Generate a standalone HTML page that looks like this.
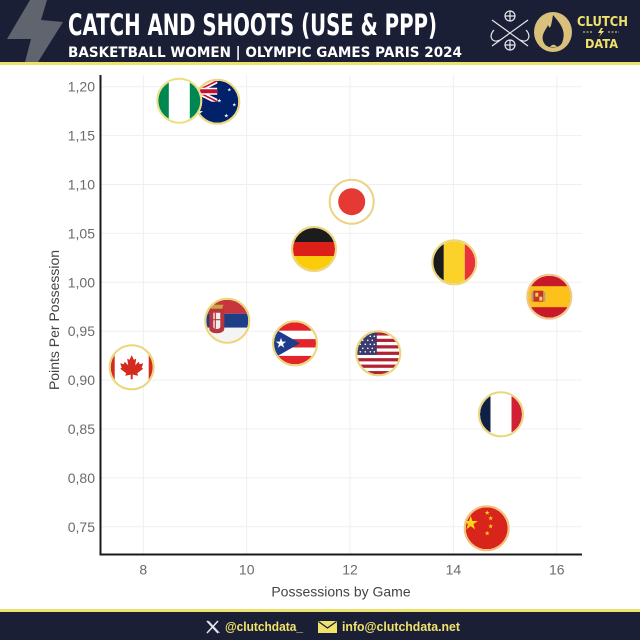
<!DOCTYPE html>
<html><head><meta charset="utf-8"><style>
html,body{margin:0;padding:0;background:#fff;}
svg{display:block;}
</style></head><body>
<svg width="640" height="640" viewBox="0 0 640 640" xmlns="http://www.w3.org/2000/svg" font-family="Liberation Sans, Arial, sans-serif">
<defs>
<path id="st" d="M0,-1 L0.2245,-0.309 L0.951,-0.309 L0.363,0.118 L0.588,0.809 L0,0.382 L-0.588,0.809 L-0.363,0.118 L-0.951,-0.309 L-0.2245,-0.309 Z"/>
<clipPath id="cc"><circle cx="0" cy="0" r="21"/></clipPath>
<clipPath id="canton"><rect x="-42" y="-21" width="42" height="21"/></clipPath>
</defs>
<rect width="640" height="640" fill="#fff"/>
<!-- header -->
<rect x="0" y="0" width="640" height="62" fill="#1b1f36"/>
<rect x="0" y="62" width="640" height="3" fill="#ede16c"/>
<polygon points="30,0 47,0 41,20 63,22 38,62 25,62 31,39 7,39" fill="#60646f"/>
<text x="68" y="35" font-family="DejaVu Sans, sans-serif" font-weight="bold" font-size="29" fill="#fff" textLength="369" lengthAdjust="spacingAndGlyphs">CATCH AND SHOOTS (USE &amp; PPP)</text>
<text x="68" y="57" font-family="DejaVu Sans, sans-serif" font-weight="bold" font-size="14" fill="#fff" textLength="394" lengthAdjust="spacingAndGlyphs">BASKETBALL WOMEN | OLYMPIC GAMES PARIS 2024</text>
<!-- basketball logo -->
<g stroke="#e8e8ee" stroke-width="1.2" fill="none">
<path d="M492,20 L528,46 M528,20 L492,46"/>
<path d="M494,30 C488,36 492,44 500,40 M526,30 C532,36 528,44 520,40"/>
<circle cx="510" cy="16" r="5"/><circle cx="510" cy="45" r="5"/>
<path d="M505,16 H515 M510,11 V21 M505,45 H515 M510,40 V50"/>
</g>
<ellipse cx="553" cy="32" rx="19" ry="20" fill="#d9c17c"/>
<path d="M553,15 C560,23 567,31 562,43 C559,49 547,49 544,43 C540,35 546,30 548,25 C550,30 551,28 553,15 Z" fill="#1b1f36"/>
<path d="M550,47 C552,44 555,44 557,47 Z" fill="#d9c17c"/>
<text x="577" y="26" font-family="DejaVu Sans, sans-serif" font-weight="bold" font-size="13" fill="#f0e26a" textLength="51" lengthAdjust="spacingAndGlyphs">CLUTCH</text>
<path d="M583,32 H593 M608,32 H619" stroke="#f0e26a" stroke-width="1" stroke-dasharray="2,1.5"/>
<path d="M601,28 L598,33 H601 L599,37 L604,31 H601 L603,28 Z" fill="#f0e26a"/>
<text x="585" y="48" font-family="DejaVu Sans, sans-serif" font-weight="bold" font-size="12" fill="#f0e26a" textLength="33" lengthAdjust="spacingAndGlyphs">DATA</text>

<!-- gridlines -->
<g stroke="#efefef" stroke-width="1">
<path d="M101,86.7 H582 M101,135.6 H582 M101,184.5 H582 M101,233.4 H582 M101,282.3 H582 M101,331.2 H582 M101,380.1 H582 M101,429 H582 M101,477.9 H582 M101,526.8 H582"/>
<path d="M143.3,75 V554 M246.7,75 V554 M350,75 V554 M453.4,75 V554 M556.8,75 V554"/>
</g>
<!-- axes -->
<path d="M100.5,75 V555.5 M100,554.5 H582" stroke="#1a1a1a" stroke-width="2" fill="none"/>
<!-- y ticks -->
<g font-size="14" fill="#6b6b6b" text-anchor="end">
<text x="95" y="91.7">1,20</text>
<text x="95" y="140.6">1,15</text>
<text x="95" y="189.5">1,10</text>
<text x="95" y="238.4">1,05</text>
<text x="95" y="287.3">1,00</text>
<text x="95" y="336.2">0,95</text>
<text x="95" y="385.1">0,90</text>
<text x="95" y="434">0,85</text>
<text x="95" y="482.9">0,80</text>
<text x="95" y="531.8">0,75</text>
</g>
<g font-size="14" fill="#6b6b6b" text-anchor="middle">
<text x="143.3" y="574.5">8</text>
<text x="246.7" y="574.5">10</text>
<text x="350" y="574.5">12</text>
<text x="453.4" y="574.5">14</text>
<text x="556.8" y="574.5">16</text>
</g>
<text x="341" y="596.5" font-size="14" fill="#444" text-anchor="middle">Possessions by Game</text>
<text transform="translate(59,320) rotate(-90)" font-size="14" fill="#444" text-anchor="middle">Points Per Possession</text>

<!-- Australia -->
<g transform="translate(217.3,101.7)">
<g clip-path="url(#cc)">
<rect x="-42" y="-21" width="84" height="42" fill="#012169"/>
<g clip-path="url(#canton)">
<path d="M-42,-21 L0,0 M0,-21 L-42,0" stroke="#fff" stroke-width="5"/>
<path d="M-42,-21 L0,0 M0,-21 L-42,0" stroke="#c8102e" stroke-width="1.6"/>
<path d="M-21,-21 V0 M-42,-10.5 H0" stroke="#fff" stroke-width="7"/>
<path d="M-21,-21 V0 M-42,-10.5 H0" stroke="#c8102e" stroke-width="4"/>
</g>
<use href="#st" transform="translate(-19,11) scale(5)" fill="#fff"/>
<use href="#st" transform="translate(2,-1) scale(2.2)" fill="#fff"/>
<use href="#st" transform="translate(12,-12) scale(2)" fill="#fff"/>
<use href="#st" transform="translate(17,3) scale(2)" fill="#fff"/>
<use href="#st" transform="translate(9,14) scale(2.2)" fill="#fff"/>
</g>
<circle r="22" fill="none" stroke="#ecd87c" stroke-width="2"/>
</g>
<!-- Nigeria -->
<g transform="translate(179.3,100.7)">
<g clip-path="url(#cc)">
<rect x="-32" y="-21" width="64" height="42" fill="#fff"/>
<rect x="-32" y="-21" width="21.5" height="42" fill="#008751"/>
<rect x="10.5" y="-21" width="21.5" height="42" fill="#008751"/>
</g>
<circle r="22" fill="none" stroke="#ece087" stroke-width="2"/>
</g>
<!-- Japan -->
<g transform="translate(351.7,201.7)">
<circle r="21.5" fill="#fff"/>
<circle r="13.5" fill="#e43a33"/>
<circle r="22" fill="none" stroke="#ecd386" stroke-width="2"/>
</g>
<!-- Germany -->
<g transform="translate(314,249)">
<g clip-path="url(#cc)">
<rect x="-22" y="-21" width="44" height="14" fill="#1c1c1c"/>
<rect x="-22" y="-7" width="44" height="14" fill="#dd1f1a"/>
<rect x="-22" y="7" width="44" height="14" fill="#fbcc0a"/>
</g>
<circle r="22" fill="none" stroke="#ecd67c" stroke-width="2"/>
</g>
<!-- Belgium -->
<g transform="translate(454.3,262.3)">
<g clip-path="url(#cc)">
<rect x="-32" y="-21" width="21.5" height="42" fill="#1b1b1b"/>
<rect x="-10.5" y="-21" width="21" height="42" fill="#fbd22a"/>
<rect x="10.5" y="-21" width="21.5" height="42" fill="#e8333e"/>
</g>
<circle r="22" fill="none" stroke="#ecd67c" stroke-width="2"/>
</g>
<!-- Spain -->
<g transform="translate(549.3,296.7)">
<g clip-path="url(#cc)">
<rect x="-22" y="-21" width="44" height="42" fill="#c8192a"/>
<rect x="-22" y="-10.5" width="44" height="21" fill="#fcc21a"/>
<rect x="-16" y="-6" width="10" height="11" fill="#c8312a"/>
<rect x="-14" y="-4" width="3" height="4" fill="#f5d05a"/>
<rect x="-10" y="0" width="3" height="4" fill="#f5d05a"/>
<rect x="-18" y="-5" width="2" height="10" fill="#b7a07a"/>
<rect x="-6" y="-5" width="2" height="10" fill="#b7a07a"/>
</g>
<circle r="22" fill="none" stroke="#f0c98a" stroke-width="2"/>
</g>
<!-- Serbia -->
<g transform="translate(227.3,320.7)">
<g clip-path="url(#cc)">
<rect x="-22" y="-21" width="44" height="14" fill="#c6363c"/>
<rect x="-22" y="-7" width="44" height="14" fill="#1d3f86"/>
<rect x="-22" y="7" width="44" height="14" fill="#f4f4f4"/>
<path d="M-18,-12 H-3 V8 C-3,14 -18,14 -18,8 Z" fill="#b8353a"/>
<path d="M-14,-8 H-7 V6 C-7,9 -14,9 -14,6 Z" fill="#eee"/>
<path d="M-12,-8 V8 M-14,-1 H-7" stroke="#b8353a" stroke-width="1.2"/>
<path d="M-17,-16 H-4 L-5,-12 H-16 Z" fill="#c9a24a"/>
</g>
<circle r="22" fill="none" stroke="#ecd67c" stroke-width="2"/>
</g>
<!-- Puerto Rico -->
<g transform="translate(295,343.3)">
<g clip-path="url(#cc)">
<rect x="-32" y="-21" width="64" height="42" fill="#fff"/>
<rect x="-32" y="-21" width="64" height="8.4" fill="#e3242b"/>
<rect x="-32" y="-4.2" width="64" height="8.4" fill="#e3242b"/>
<rect x="-32" y="12.6" width="64" height="8.4" fill="#e3242b"/>
<polygon points="-32,-21 -32,21 5,0" fill="#1e3c8c"/>
<use href="#st" transform="translate(-14,0) scale(5.5)" fill="#fff"/>
</g>
<circle r="22" fill="none" stroke="#ecd67c" stroke-width="2"/>
</g>
<!-- USA -->
<g transform="translate(378.3,353.3)">
<g clip-path="url(#cc)">
<rect x="-32" y="-21" width="64" height="42" fill="#fff"/>
<g fill="#b22234">
<rect x="-32" y="-21" width="64" height="3.23"/>
<rect x="-32" y="-14.54" width="64" height="3.23"/>
<rect x="-32" y="-8.08" width="64" height="3.23"/>
<rect x="-32" y="-1.62" width="64" height="3.23"/>
<rect x="-32" y="4.84" width="64" height="3.23"/>
<rect x="-32" y="11.3" width="64" height="3.23"/>
<rect x="-32" y="17.76" width="64" height="3.23"/>
</g>
<rect x="-32" y="-21" width="30.5" height="22.6" fill="#3c3b6e"/>
<g fill="#fff">
<circle cx="-18" cy="-17" r="0.8"/><circle cx="-13" cy="-17" r="0.8"/><circle cx="-8" cy="-17" r="0.8"/><circle cx="-4" cy="-17" r="0.8"/>
<circle cx="-15.5" cy="-13" r="0.8"/><circle cx="-10.5" cy="-13" r="0.8"/><circle cx="-6" cy="-13" r="0.8"/>
<circle cx="-18" cy="-9" r="0.8"/><circle cx="-13" cy="-9" r="0.8"/><circle cx="-8" cy="-9" r="0.8"/><circle cx="-4" cy="-9" r="0.8"/>
<circle cx="-15.5" cy="-5" r="0.8"/><circle cx="-10.5" cy="-5" r="0.8"/><circle cx="-6" cy="-5" r="0.8"/>
<circle cx="-18" cy="-1.5" r="0.8"/><circle cx="-13" cy="-1.5" r="0.8"/><circle cx="-8" cy="-1.5" r="0.8"/><circle cx="-4" cy="-1.5" r="0.8"/>
</g>
</g>
<circle r="22" fill="none" stroke="#ecd67c" stroke-width="2"/>
</g>
<!-- Canada -->
<g transform="translate(131.7,367.3)">
<g clip-path="url(#cc)">
<rect x="-22" y="-21" width="44" height="42" fill="#fff"/>
<rect x="-22" y="-21" width="5" height="42" fill="#d52b1e"/>
<rect x="17" y="-21" width="5" height="42" fill="#d52b1e"/>
<path d="M0,-12 L2.2,-7.5 L4.5,-8.5 L3.5,-2 L7,-5.5 L8,-3 L11.5,-4 L10,0.5 L11.5,1.5 L5.5,6 L6.5,8.5 L1,7.3 L1,12 L-1,12 L-1,7.3 L-6.5,8.5 L-5.5,6 L-11.5,1.5 L-10,0.5 L-11.5,-4 L-8,-3 L-7,-5.5 L-3.5,-2 L-4.5,-8.5 L-2.2,-7.5 Z" fill="#d52b1e"/>
</g>
<circle r="22" fill="none" stroke="#ecd67c" stroke-width="2"/>
</g>
<!-- France -->
<g transform="translate(501,414.3)">
<g clip-path="url(#cc)">
<rect x="-32" y="-21" width="21.5" height="42" fill="#0f1f45"/>
<rect x="-10.5" y="-21" width="21" height="42" fill="#fff"/>
<rect x="10.5" y="-21" width="21.5" height="42" fill="#d11f35"/>
</g>
<circle r="22" fill="none" stroke="#ecd67c" stroke-width="2"/>
</g>
<!-- China -->
<g transform="translate(486.7,528.3)">
<g clip-path="url(#cc)">
<rect x="-22" y="-21" width="44" height="42" fill="#d9241c"/>
<use href="#st" transform="translate(-16,-5) scale(7.5)" fill="#fcd419"/>
<use href="#st" transform="translate(0.5,-15.5) scale(2.6)" fill="#fcd419"/>
<use href="#st" transform="translate(4,-10) scale(2.6)" fill="#fcd419"/>
<use href="#st" transform="translate(4,-2) scale(2.6)" fill="#fcd419"/>
<use href="#st" transform="translate(0.5,5) scale(2.6)" fill="#fcd419"/>
</g>
<circle r="22" fill="none" stroke="#f2c27a" stroke-width="2"/>
</g>

<!-- footer -->
<rect x="0" y="609" width="640" height="3" fill="#ede16c"/>
<rect x="0" y="612" width="640" height="28" fill="#1b1f36"/>
<path d="M207,621 L218,633 M218,621 L207,633" stroke="#e8e8ee" stroke-width="1.5"/>
<path d="M208.5,621 L219.5,633" stroke="#e8e8ee" stroke-width="0.8"/>
<text x="225" y="631" font-weight="bold" font-size="13" fill="#f0e26a" textLength="78" lengthAdjust="spacingAndGlyphs">@clutchdata_</text>
<rect x="318" y="621" width="19" height="12" fill="#f0e26a"/>
<path d="M318.5,621.5 L327.5,628 L336.5,621.5" stroke="#1b1f36" stroke-width="1.3" fill="none"/>
<text x="342" y="631" font-weight="bold" font-size="13" fill="#f0e26a" textLength="118" lengthAdjust="spacingAndGlyphs">info@clutchdata.net</text>
</svg>
</body></html>
